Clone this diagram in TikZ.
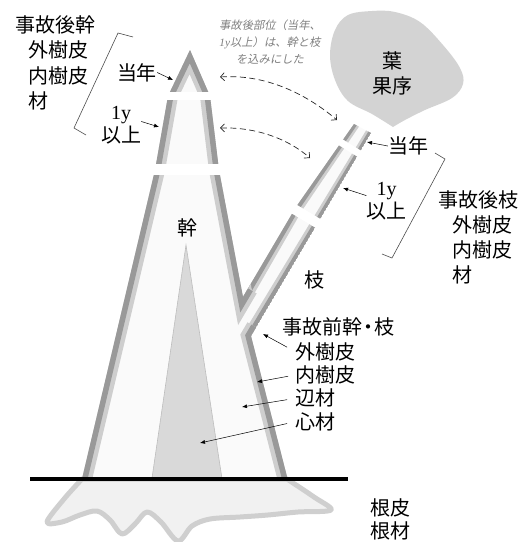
\documentclass[tikz,border=0pt]{standalone}
\usepackage{fontspec}
\setmainfont{Noto Sans CJK JP}
\newfontfamily\latinserif{Liberation Serif}
\newfontfamily\noteslant{Noto Sans CJK JP}[FakeSlant=0.2]
\usepackage{tikz}
\usetikzlibrary{arrows.meta,calc,positioning}

\definecolor{barkout}{HTML}{999999}
\definecolor{barkin}{HTML}{CECECE}
\definecolor{woodfill}{HTML}{FAFAFA}
\definecolor{heartfill}{HTML}{D9D9D9}
\definecolor{heartline}{HTML}{BDBDBD}
\definecolor{rootfill}{HTML}{F1F1F1}
\definecolor{rootline}{HTML}{CFCFCF}
\definecolor{leaffill}{HTML}{D3D3D3}
\definecolor{notegray}{HTML}{7F7F7F}

\begin{document}
\begin{tikzpicture}[
    x=1pt, y=-1pt,
    lbl/.style={inner sep=0pt, align=left, font=\fontsize{20}{25.5}\selectfont},
    note/.style={inner sep=0pt, align=center, text=notegray, font=\noteslant\fontsize{11.3}{17}\selectfont},
    ptr/.style={-{Latex[length=5pt,width=4pt]}, line width=0.5pt},
    crossref/.style={{Straight Barb[length=4pt,width=8pt]}-{Straight Barb[length=4pt,width=8pt]}, dash pattern=on 6pt off 3.5pt, line width=0.7pt, black!85},
    bracketline/.style={line width=0.6pt, black!70},
    root/.style={fill=rootfill, draw=rootline, line width=5pt, line join=round},
    cutband/.style={white},
]
\useasboundingbox (0,0) rectangle (522,542);

% outline of trunk and branch
\coordinate (apex) at (190,50);
\coordinate (tipL) at (168,96);
\coordinate (midL) at (155,170);
\coordinate (baseL) at (77,500);
\coordinate (baseR) at (293,500);
\coordinate (elbow) at (251,336);
\coordinate (endR) at (371,133);
\coordinate (endL) at (354,124);
\coordinate (kinkL) at (296,207);
\coordinate (crotch) at (243,297);
\coordinate (midR) at (219,170);
\coordinate (tipR) at (210,96);
\coordinate (endL+) at ($(endL)!-5pt!(kinkL)$);
\coordinate (endR+) at ($(endR)!-5pt!(elbow)$);
\coordinate (kinkL-) at ($(kinkL)!-3pt!(endL)$);

% roots below ground
\path[root] (287,479) -- (82,479) -- plot[smooth, tension=0.55] coordinates {(82,479) (64,499) (47,522) (62,522) (80,515) (97,511) (110,520) (122,534) (135,524) (147,512) (161,522) (178,541) (192,526) (210,519) (240,517) (268,515) (298,512) (331,510) (314,497) (287,479)} -- cycle;

% trunk + branch with bark layers
\begin{scope}
  \clip (0,0) rectangle (522,479);
  \clip (endL) -- (kinkL) -- (crotch) -- (midR) -- (tipR) -- (apex) -- (tipL) -- (midL) -- (baseL) -- (baseR) -- (elbow) -- (endR) -- cycle;
  \fill[woodfill] (0,0) rectangle (522,479);
  % bark along the branch gets thinner towards its tip
  \foreach \wb/\wm/\wt/\c in {8/7/5.5/barkin, 4.5/4/3/barkout} {
    \fill[\c] (crotch) -- (kinkL) -- ($(kinkL)!\wm pt!90:(crotch)$) -- ($(crotch)!\wb pt!-90:(kinkL)$) -- cycle;
    \fill[\c] (kinkL-) -- (endL+) -- ($(endL+)!\wt pt!90:(kinkL-)$) -- ($(kinkL-)!\wm pt!-90:(endL+)$) -- cycle;
    \fill[\c] (elbow) -- (endR+) -- ($(endR+)!\wt pt!-90:(elbow)$) -- ($(elbow)!\wb pt!90:(endR+)$) -- cycle;
  }
  \foreach \w/\c in {20/barkin, 11/barkout}
    \draw[\c, line width=\w pt] ($(crotch)!10pt!(kinkL)$) -- (crotch) -- (midR) -- (tipR) -- (apex) -- (tipL) -- (midL) -- (baseL) -- (baseR) -- (elbow) -- ($(elbow)!10pt!(endR)$);
  \filldraw[fill=heartfill, draw=heartline, line width=0.6pt] (186,245) -- (223,485) -- (151,485) -- cycle;
\end{scope}

% year bands
\fill[cutband] (140,92) rectangle (235,100);
\fill[cutband] (125,164) rectangle (240,175);
\draw[cutband, line width=7pt] (333,137.5) -- (367,158.5);
\draw[cutband, line width=10pt] (284,203) -- (329,230);

% ground
\draw[line width=4.5pt] (30,479) -- (348,479);

% leaves and fruit
\fill[leaffill] (393,127) -- plot[smooth, tension=0.6] coordinates {(393,127) (372,114) (348,101) (335,80) (330,55) (335,30) (348,15) (372,11) (395,12) (420,22) (443,45) (460,68) (463,84) (452,98) (425,110) (405,120) (393,127)} -- cycle;
\node[lbl, align=center, font=\fontsize{20}{25}\selectfont] (crown) at (392,73.5) {葉\\果序};

% labels
\node[lbl, anchor=west] (postTrunk) at (15,63) {事故後幹\\\hspace*{13pt}外樹皮\\\hspace*{13pt}内樹皮\\\hspace*{13pt}材};
\node[lbl, anchor=west, font=\fontsize{20}{25}\selectfont] (postBranch) at (438,237.5) {事故後枝\\\hspace*{14pt}外樹皮\\\hspace*{14pt}内樹皮\\\hspace*{14pt}材};
\node[note] (remark) at (270,42) {事故後部位（当年、\\{\latinserif\itshape 1y}以上）は、幹と枝\\を込みにした};

\node[lbl] (lNow) at (137,72.5) {当年};
\node[lbl, align=center, font=\fontsize{20}{23}\selectfont] (lOld) at (121,125) {{\latinserif 1y}\\以上};
\node[lbl] (rNow) at (408,146) {当年};
\node[lbl, align=center, font=\fontsize{20}{23}\selectfont] (rOld) at (386.5,201) {{\latinserif 1y}\\以上};
\node[lbl] (trunkName) at (187,228) {幹};
\node[lbl] (branchName) at (314,280) {枝};

\node[lbl, anchor=west] (preHead) at (282,326.5) {事故前幹\kern-4pt・\kern-4pt枝};
\node[lbl, anchor=west] (preOuter) at (295,351.5) {外樹皮};
\node[lbl, below=4.6pt of preOuter.south west, anchor=north west] (preInner) {内樹皮};
\node[lbl, below=4.6pt of preInner.south west, anchor=north west] (preSap) {辺材};
\node[lbl, below=4.6pt of preSap.south west, anchor=north west] (preHeart) {心材};

\node[lbl, font=\fontsize{20}{23}\selectfont] (rootName) at (390,519.5) {根皮\\根材};

% arrow targets on the tree
\coordinate (lNowTip) at (173,80);
\coordinate (lOldTip) at (159,127);
\coordinate (rNowTip) at (367,142);
\coordinate (rOldTip) at (343,188);
\coordinate (outerTip) at (263,334);
\coordinate (innerTip) at (257,382);
\coordinate (sapTip) at (242,407);
\coordinate (heartTip) at (200,443);

\draw[ptr] (lNow.east) -- (lNowTip);
\draw[ptr] (lOld.10) -- (lOldTip);
\draw[ptr] (rNow.west) -- (rNowTip);
\draw[ptr] (rOld.165) -- (rOldTip);
\draw[ptr, shorten <=9pt] (preOuter.west) -- (outerTip);
\draw[ptr, shorten <=7pt] (preInner.west) -- (innerTip);
\draw[ptr, shorten <=8pt] (preSap.west) -- (sapTip);
\draw[ptr, shorten <=8pt] (preHeart.west) -- (heartTip);

% same-year parts of trunk and branch
\coordinate (nowT) at (220,77);
\coordinate (nowB) at (337,120);
\coordinate (oldT) at (220,128);
\coordinate (oldB) at (310,158);
\draw[crossref] (nowT) .. controls (265,74) and (305,93) .. (nowB);
\draw[crossref] (oldT) .. controls (255,127) and (287,138) .. (oldB);

% brackets
\draw[bracketline] (133,37) -- (118,33) -- (74,128) -- (86,135);
\draw[bracketline] (435,153) -- (445,159) -- (392,258) -- (382,254);
\end{tikzpicture}
\end{document}
